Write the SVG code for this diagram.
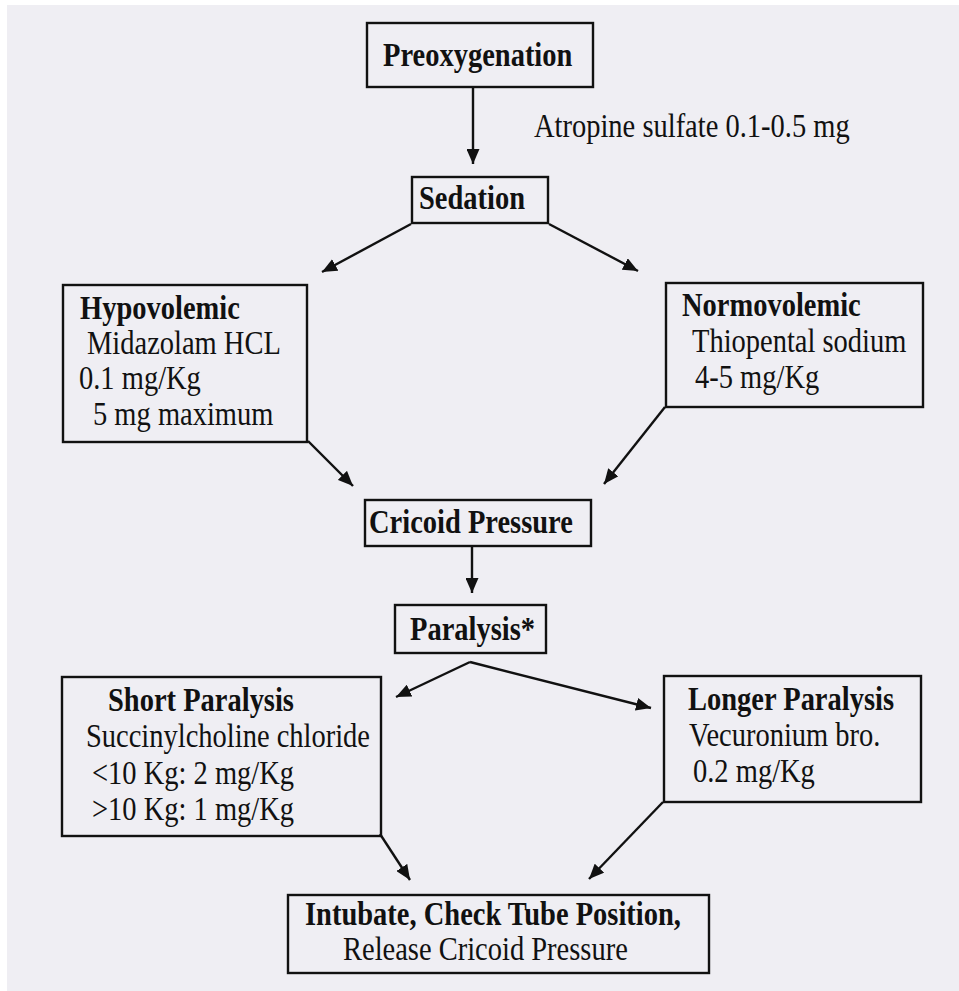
<svg xmlns="http://www.w3.org/2000/svg" width="959" height="991" viewBox="0 0 959 991">
<defs>
<style>
.box{fill:none;stroke:#111;stroke-width:2.4}
.t{font-family:"Liberation Serif","Times New Roman",serif;font-size:28.5px;fill:#111}
.b{font-weight:bold}
.c{stroke:#111;stroke-width:2.4;fill:none}
</style>
<marker id="ah" viewBox="0 0 15 13" markerWidth="15" markerHeight="13" refX="15" refY="6.5" orient="auto" markerUnits="userSpaceOnUse">
<path d="M0,0 L15,6.5 L0,13 z" fill="#111"/>
</marker>
</defs>
<rect x="0" y="0" width="959" height="991" fill="#ffffff"/>
<rect x="7" y="5" width="952" height="986" fill="#efeef3"/>

<g id="connectors">
<line class="c" x1="473" y1="88" x2="473" y2="164" marker-end="url(#ah)"/>
<line class="c" x1="411" y1="224" x2="322" y2="272" marker-end="url(#ah)"/>
<line class="c" x1="549" y1="224" x2="638" y2="271" marker-end="url(#ah)"/>
<line class="c" x1="308" y1="441" x2="353" y2="486" marker-end="url(#ah)"/>
<line class="c" x1="665" y1="407" x2="604" y2="484" marker-end="url(#ah)"/>
<line class="c" x1="472" y1="546" x2="472" y2="593" marker-end="url(#ah)"/>
<line class="c" x1="470" y1="662" x2="396" y2="697" marker-end="url(#ah)"/>
<line class="c" x1="470" y1="662" x2="651" y2="708" marker-end="url(#ah)"/>
<line class="c" x1="380" y1="834" x2="410" y2="880" marker-end="url(#ah)"/>
<line class="c" x1="663" y1="802" x2="589" y2="879" marker-end="url(#ah)"/>
<text class="t" transform="translate(534,137) scale(1,1.18)">Atropine sulfate 0.1-0.5 mg</text>
</g>

<g id="preoxygenation">
<rect class="box" x="367" y="23" width="226" height="64"/>
<text class="t b" transform="translate(383,66) scale(1,1.18)">Preoxygenation</text>
</g>

<g id="sedation">
<rect class="box" x="412" y="177" width="136" height="46"/>
<text class="t b" transform="translate(419,209) scale(1,1.18)">Sedation</text>
</g>

<g id="hypovolemic">
<rect class="box" x="63" y="285" width="244" height="157"/>
<text class="t b" transform="translate(80,319) scale(1,1.18)">Hypovolemic</text>
<text class="t" transform="translate(87,354) scale(1,1.18)">Midazolam HCL</text>
<text class="t" transform="translate(79,389) scale(1,1.18)">0.1 mg/Kg</text>
<text class="t" transform="translate(93,425) scale(1,1.18)">5 mg maximum</text>
</g>

<g id="normovolemic">
<rect class="box" x="666" y="283" width="257" height="124"/>
<text class="t b" transform="translate(682,316) scale(1,1.18)">Normovolemic</text>
<text class="t" transform="translate(692,352) scale(1,1.18)">Thiopental sodium</text>
<text class="t" transform="translate(695,388) scale(1,1.18)">4-5 mg/Kg</text>
</g>

<g id="cricoid">
<rect class="box" x="365" y="500" width="226" height="46"/>
<text class="t b" transform="translate(369,533) scale(1,1.18)">Cricoid Pressure</text>
</g>

<g id="paralysis">
<rect class="box" x="395" y="605" width="151" height="48"/>
<text class="t b" transform="translate(410,640) scale(1,1.18)">Paralysis*</text>
</g>

<g id="short-paralysis">
<rect class="box" x="62" y="677" width="319" height="159"/>
<text class="t b" transform="translate(108,711) scale(1,1.18)">Short Paralysis</text>
<text class="t" transform="translate(86,747) scale(1,1.18)">Succinylcholine chloride</text>
<text class="t" transform="translate(92,784) scale(1,1.18)">&lt;10 Kg: 2 mg/Kg</text>
<text class="t" transform="translate(92,820) scale(1,1.18)">&gt;10 Kg: 1 mg/Kg</text>
</g>

<g id="longer-paralysis">
<rect class="box" x="664" y="676" width="257" height="126"/>
<text class="t b" transform="translate(688,710) scale(1,1.18)">Longer Paralysis</text>
<text class="t" transform="translate(689,746) scale(1,1.18)">Vecuronium bro.</text>
<text class="t" transform="translate(693,782) scale(1,1.18)">0.2 mg/Kg</text>
</g>

<g id="intubate">
<rect class="box" x="288" y="895" width="421" height="78"/>
<text class="t b" transform="translate(305,925) scale(1,1.18)">Intubate, Check Tube Position,</text>
<text class="t" transform="translate(343,960) scale(1,1.18)">Release Cricoid Pressure</text>
</g>
</svg>
